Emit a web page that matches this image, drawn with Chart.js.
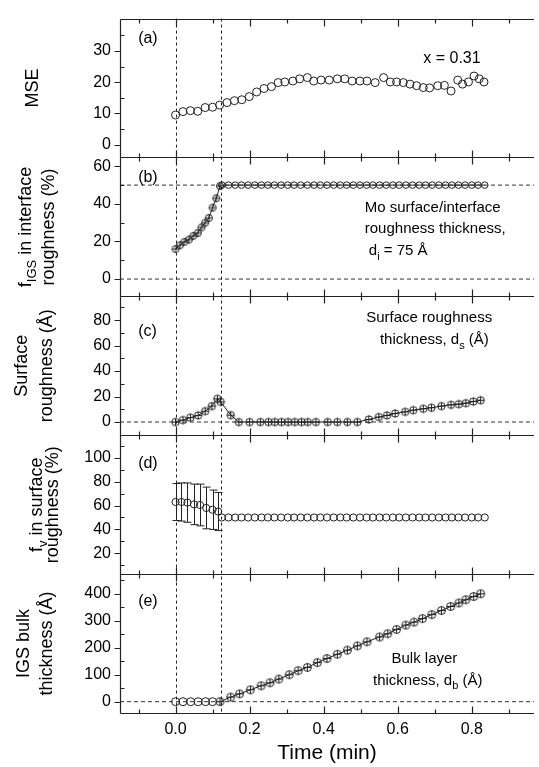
<!DOCTYPE html>
<html>
<head>
<meta charset="utf-8">
<title>IGS growth on Mo</title>
<script src="https://cdn.jsdelivr.net/npm/chart.js@4.4.1/dist/chart.umd.min.js"></script>
<style>
  html, body { margin: 0; padding: 0; background: #fff; }
  #wrap { width: 539px; height: 767px; }
</style>
</head>
<body>
<div id="wrap"><canvas id="chart" width="539" height="767"></canvas></div>
<script>
// ---- data ----
const xTicks = [0.0, 0.2, 0.4, 0.6, 0.8];
const guideTimes = [0.0, 0.124];

// (a) MSE
const tMse = [0, 0.02, 0.04, 0.06, 0.08, 0.10, 0.119, 0.139, 0.159, 0.179, 0.199, 0.219, 0.239, 0.259, 0.277,
  0.295, 0.317, 0.335, 0.356, 0.373, 0.393, 0.415, 0.437, 0.457, 0.477, 0.498, 0.517, 0.539, 0.562, 0.58,
  0.597, 0.615, 0.633, 0.651, 0.669, 0.686, 0.708, 0.726, 0.744, 0.762, 0.775, 0.791, 0.806, 0.82, 0.833];
const mse = [9.5, 10.6, 10.9, 10.7, 11.9, 12.0, 12.7, 13.5, 14.1, 14.4, 15.4, 16.9, 18.0, 18.6, 19.9,
  20.1, 20.4, 21.1, 21.5, 20.4, 20.7, 20.7, 21.1, 21.1, 20.4, 20.4, 20.4, 19.9, 21.5, 20.1,
  20.1, 19.9, 19.4, 18.9, 18.3, 18.2, 18.9, 19.0, 17.2, 20.7, 19.4, 20.1, 22.0, 21.1, 20.1];
const mseTicks = [0, 10, 20, 30];

// (b) f_IGS in interface roughness, rising part then fixed at 50 %
const tIgs = [0, 0.012, 0.024, 0.036, 0.048, 0.06, 0.07, 0.08, 0.09, 0.1, 0.11, 0.12];
const igs = [16, 18, 19.8, 21, 23, 24.5, 27.5, 30, 32.5, 38, 43, 49.5];
const tFlat = [0.125, 0.143, 0.161, 0.178, 0.196, 0.214, 0.232, 0.249, 0.267, 0.285, 0.303, 0.320, 0.338, 0.356,
  0.374, 0.391, 0.409, 0.427, 0.445, 0.462, 0.480, 0.498, 0.516, 0.533, 0.551, 0.569, 0.587, 0.604,
  0.622, 0.640, 0.658, 0.675, 0.693, 0.711, 0.729, 0.746, 0.764, 0.782, 0.800, 0.817, 0.835];
const igsFlat = [50, 50, 50, 50, 50, 50, 50, 50, 50, 50, 50, 50, 50, 50, 50, 50, 50, 50, 50, 50, 50,
  50, 50, 50, 50, 50, 50, 50, 50, 50, 50, 50, 50, 50, 50, 50, 50, 50, 50, 50, 50];
const igsTicks = [0, 20, 40, 60];

// (c) surface roughness thickness (Å)
const tSurf = [0, 0.02, 0.04, 0.061, 0.08, 0.098, 0.113, 0.122, 0.149, 0.171, 0.2, 0.229, 0.251, 0.268, 0.286,
  0.304, 0.322, 0.34, 0.357, 0.379, 0.411, 0.437, 0.464, 0.491, 0.522, 0.549, 0.571, 0.593, 0.62,
  0.642, 0.669, 0.691, 0.718, 0.744, 0.765, 0.784, 0.804, 0.824];
const surf = [0, 1.5, 3.4, 5.2, 8.5, 12.5, 18.2, 15.8, 5.4, 0, 0, 0, 0, 0, 0,
  0, 0, 0, 0, 0, 0, 0, 0, 0, 2, 3.9, 5.2, 6.7, 8,
  9.3, 10.4, 11.2, 12.5, 13.5, 14, 14.8, 16.1, 17.1];
const surfTicks = [0, 20, 40, 60, 80];

// (d) f_v in surface roughness (%), with error bars, then fixed at 50 %
const tFv = [0, 0.016, 0.032, 0.05, 0.066, 0.083, 0.1, 0.115];
const fv = [63, 63, 62.5, 61, 60.5, 58, 56.5, 55];
const fvErr = [15.5, 16, 16.5, 17, 17.5, 17.5, 16.5, 16];
const fvFlat = [50, 50, 50, 50, 50, 50, 50, 50, 50, 50, 50, 50, 50, 50, 50, 50, 50, 50, 50, 50, 50,
  50, 50, 50, 50, 50, 50, 50, 50, 50, 50, 50, 50, 50, 50, 50, 50, 50, 50, 50, 50];
const fvTicks = [20, 40, 60, 80, 100];

// (e) IGS bulk thickness (Å)
const tBulk0 = [0, 0.02, 0.041, 0.061, 0.081, 0.1];
const bulk0 = [0, 0, 0, 0, 0, 0];
const tBulk = [0.12, 0.149, 0.173, 0.202, 0.231, 0.255, 0.279, 0.307, 0.331, 0.356, 0.383, 0.409, 0.437, 0.464, 0.491,
  0.517, 0.551, 0.573, 0.597, 0.622, 0.644, 0.667, 0.692, 0.718, 0.743, 0.765, 0.784, 0.805, 0.824];
const bulk = [0, 17, 29, 44, 59, 70, 84, 100, 115, 127, 145, 160, 176, 191, 207,
  222, 240, 252, 268, 284, 295, 308, 323, 338, 353, 366, 378, 390, 400];
const bulkTicks = [0, 100, 200, 300, 400];

// ---- look ----
const FONT = 'Arial, "Liberation Sans", sans-serif';
const INK = '#222';
const xMin = -0.15, xMax = 0.968;

const panels = [
  { id: 'yA', min: -4.1, max: 40.4, ticks: mseTicks,
    title: [[['MSE']]], tx: [33] },
  { id: 'yB', min: -9.2, max: 64.7, ticks: igsTicks,
    title: [[['f'], ['IGS', 1], [' in interface']], [['roughness (%)']]], tx: [26, 49] },
  { id: 'yC', min: -10.4, max: 98.7, ticks: surfTicks,
    title: [[['Surface']], [['roughness (Å)']]], tx: [22, 47] },
  { id: 'yD', min: 2.5, max: 119, ticks: fvTicks,
    title: [[['f'], ['v', 1], [' in surface']], [['roughness (%)']]], tx: [37, 53] },
  { id: 'yE', min: -42, max: 473, ticks: bulkTicks,
    title: [[['IGS bulk']], [['thickness (Å)']]], tx: [24, 47] }
];

const notes = [
  { id: 'yA', x: -0.101, y: 34, parts: [['(a)']] },
  { id: 'yA', x: 0.669, y: 27.7, parts: [['x = 0.31']] },
  { id: 'yB', x: -0.101, y: 54, parts: [['(b)']] },
  { id: 'yB', x: 0.511, y: 38, parts: [['Mo surface/interface']] },
  { id: 'yB', x: 0.511, y: 26.5, parts: [['roughness thickness,']] },
  { id: 'yB', x: 0.522, y: 15, parts: [['d'], ['i', 1], [' = 75 Å']] },
  { id: 'yC', x: -0.101, y: 71, parts: [['(c)']] },
  { id: 'yC', x: 0.685, y: 82, parts: [['Surface roughness']], center: true },
  { id: 'yC', x: 0.699, y: 64.4, parts: [['thickness, d'], ['s', 1], [' (Å)']], center: true },
  { id: 'yD', x: -0.101, y: 95.5, parts: [['(d)']] },
  { id: 'yE', x: -0.101, y: 372, parts: [['(e)']] },
  { id: 'yE', x: 0.672, y: 158, parts: [['Bulk layer']], center: true },
  { id: 'yE', x: 0.681, y: 78, parts: [['thickness, d'], ['b', 1], [' (Å)']], center: true }
];

// circle with the small error cross inside
function ringCross(r) {
  const c = document.createElement('canvas');
  const s = Math.ceil(2 * r + 3);
  c.width = c.height = s;
  const g = c.getContext('2d');
  const m = s / 2;
  g.strokeStyle = INK;
  g.lineWidth = 1;
  g.beginPath();
  g.arc(m, m, r, 0, Math.PI * 2);
  g.moveTo(m, m - r); g.lineTo(m, m + r);
  g.moveTo(m - r, m); g.lineTo(m + r, m);
  g.stroke();
  return c;
}

// text with subscripts, parts = [[text, isSub], ...]
function drawRich(ctx, parts, x, y, size, center) {
  const big = size + 'px ' + FONT;
  const small = Math.round(size * 0.72) + 'px ' + FONT;
  let w = 0;
  parts.forEach(p => { ctx.font = p[1] ? small : big; w += ctx.measureText(p[0]).width; });
  let cx = center ? x - w / 2 : x;
  parts.forEach(p => {
    ctx.font = p[1] ? small : big;
    ctx.fillText(p[0], cx, p[1] ? y + size * 0.38 : y);
    cx += ctx.measureText(p[0]).width;
  });
}

const pt = (ts, vs) => ts.map((t, i) => ({ x: t, y: vs[i] }));
const hline = (id, v) => ({
  yAxisID: id, data: [{ x: xMin, y: v }, { x: xMax, y: v }], borderColor: '#333', borderWidth: 1,
  borderDash: [4, 3], pointRadius: 0, showLine: true
});

const frame = {
  id: 'frame',
  afterDatasetsDraw(chart) {
    const { ctx, chartArea: a, scales } = chart;
    const xs = scales.x;
    ctx.save();
    ctx.strokeStyle = '#222';
    ctx.lineWidth = 1;

    // error bars of panel (d)
    const yd = scales.yD;
    tFv.forEach((t, i) => {
      const px = Math.round(xs.getPixelForValue(t)) + 0.5;
      const lo = yd.getPixelForValue(fv[i] - fvErr[i]);
      const hi = yd.getPixelForValue(fv[i] + fvErr[i]);
      ctx.beginPath();
      ctx.moveTo(px, lo); ctx.lineTo(px, hi);
      ctx.moveTo(px - 4, lo); ctx.lineTo(px + 4, lo);
      ctx.moveTo(px - 4, hi); ctx.lineTo(px + 4, hi);
      ctx.stroke();
    });

    // vertical dashed guides through all panels
    ctx.setLineDash([3, 3]);
    guideTimes.forEach(t => {
      const px = Math.round(xs.getPixelForValue(t)) + 0.5;
      ctx.beginPath(); ctx.moveTo(px, a.top); ctx.lineTo(px, a.bottom); ctx.stroke();
    });
    ctx.setLineDash([]);

    // panel frames and inside ticks
    ctx.strokeStyle = '#222';
    ctx.lineWidth = 1.2;
    const left = a.left + 0.5;
    panels.forEach(p => {
      const s = scales[p.id];
      const top = Math.round(s.top) + 0.5, bot = Math.round(s.bottom) + 0.5;
      ctx.beginPath();
      ctx.moveTo(left, top); ctx.lineTo(a.right, top);
      ctx.moveTo(left, bot); ctx.lineTo(a.right, bot);
      ctx.moveTo(left, top); ctx.lineTo(left, bot);
      // x ticks
      for (let v = -0.1; v < xMax; v += 0.1) {
        const px = Math.round(xs.getPixelForValue(v)) + 0.5;
        const major = Math.abs(v / 0.2 - Math.round(v / 0.2)) < 1e-6;
        const len = major ? 7 : 4;
        ctx.moveTo(px, top); ctx.lineTo(px, top + len);
        ctx.moveTo(px, bot); ctx.lineTo(px, bot - len);
      }
      // y ticks: major outside, minor inside
      const step = p.ticks[1] - p.ticks[0];
      p.ticks.forEach(v => {
        const py = Math.round(s.getPixelForValue(v)) + 0.5;
        ctx.moveTo(left, py); ctx.lineTo(left - 6, py);
      });
      for (let v = p.ticks[0] - step / 2; v < p.max; v += step) {
        if (v <= p.min) continue;
        const py = Math.round(s.getPixelForValue(v)) + 0.5;
        ctx.moveTo(left, py); ctx.lineTo(left + 4, py);
      }
      ctx.stroke();
    });

    // axis titles (rotated, two lines)
    ctx.fillStyle = '#000';
    ctx.textBaseline = 'middle';
    ctx.textAlign = 'left';
    panels.forEach(p => {
      const s = scales[p.id];
      const cy = (s.top + s.bottom) / 2;
      p.title.forEach((line, k) => {
        ctx.save();
        ctx.translate(p.tx[k], cy);
        ctx.rotate(-Math.PI / 2);
        drawRich(ctx, line, 0, 0, 18, true);
        ctx.restore();
      });
    });

    // in-panel labels
    notes.forEach(n => {
      const s = scales[n.id];
      const size = n.parts[0][0].startsWith('(') || n.parts[0][0].startsWith('x') ? 16 : 15;
      drawRich(ctx, n.parts, xs.getPixelForValue(n.x), s.getPixelForValue(n.y), size, n.center);
    });
    ctx.restore();
  }
};

const scales = {
  x: {
    type: 'linear', min: xMin, max: xMax,
    afterBuildTicks: s => { s.ticks = xTicks.map(v => ({ value: v })); },
    afterFit: s => { s.height = 54; },
    grid: { display: false, drawTicks: false },
    border: { display: false },
    ticks: { color: '#000', font: { size: 16, family: FONT }, padding: 7, autoSkip: false, maxRotation: 0,
      callback: v => v.toFixed(1) },
    title: { display: true, text: 'Time (min)', color: '#000', font: { size: 21, family: FONT },
      padding: { top: 0, bottom: 1 } }
  }
};
// stacked scales are laid out from the bottom up, so add (e) first
panels.slice().reverse().forEach(p => {
  scales[p.id] = {
    type: 'linear', position: 'left', stack: 'panels', stackWeight: 1,
    min: p.min, max: p.max,
    afterBuildTicks: s => { s.ticks = p.ticks.map(v => ({ value: v })); },
    afterFit: s => { s.width = 120; },
    grid: { display: false, drawTicks: false },
    border: { display: false },
    ticks: { color: '#000', font: { size: 16, family: FONT }, padding: 9, autoSkip: false }
  };
});

const hollow = { pointStyle: 'circle', backgroundColor: 'rgba(0,0,0,0)', borderColor: INK, pointBorderWidth: 1 };

new Chart(document.getElementById('chart'), {
  type: 'line',
  data: {
    datasets: [
      hline('yB', 50), hline('yB', 0), hline('yC', 0), hline('yE', 0),
      { yAxisID: 'yA', data: pt(tMse, mse), showLine: false, pointRadius: 4, ...hollow },
      { yAxisID: 'yB', data: pt(tIgs, igs), showLine: true, borderWidth: 1, borderColor: INK,
        pointStyle: ringCross(3.5) },
      { yAxisID: 'yB', data: pt(tFlat, igsFlat), showLine: true, borderWidth: 1, pointRadius: 3.3, ...hollow },
      { yAxisID: 'yC', data: pt(tSurf, surf), showLine: true, borderWidth: 1, borderColor: INK,
        pointStyle: ringCross(3.7) },
      { yAxisID: 'yD', data: pt(tFv, fv), showLine: false, pointRadius: 3.6, ...hollow },
      { yAxisID: 'yD', data: pt(tFlat, fvFlat), showLine: false, pointRadius: 3.6, ...hollow },
      { yAxisID: 'yE', data: pt(tBulk0, bulk0), showLine: false, pointRadius: 4, ...hollow },
      { yAxisID: 'yE', data: pt(tBulk, bulk), showLine: true, borderWidth: 1, borderColor: INK,
        pointStyle: ringCross(4) }
    ]
  },
  options: {
    responsive: false,
    animation: false,
    layout: { padding: { top: 12, left: 0, right: 0, bottom: 0 } },
    elements: { line: { tension: 0 } },
    plugins: { legend: { display: false }, tooltip: { enabled: false } },
    scales: scales
  },
  plugins: [frame]
});
</script>
</body>
</html>
